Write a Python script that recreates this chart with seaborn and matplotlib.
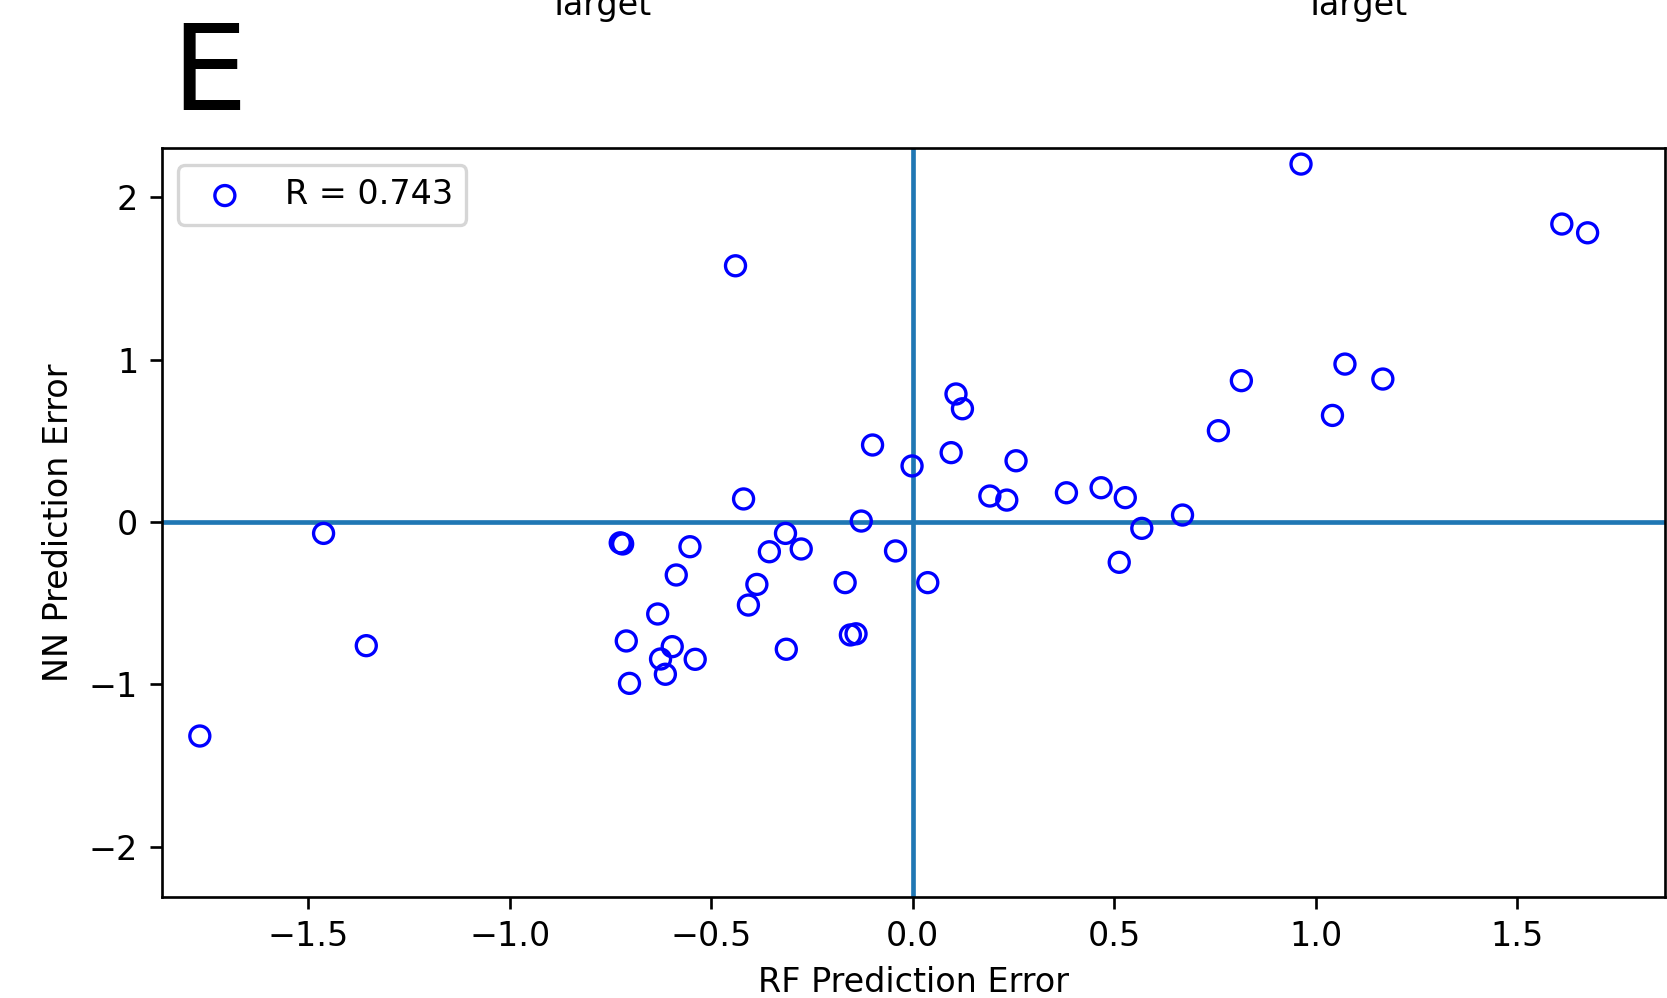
import matplotlib
matplotlib.use("Agg")
import matplotlib.pyplot as plt
import seaborn as sns
import pandas as pd

# Data
rf_error = [
    -0.100, -0.002, 0.095, 0.256, 0.191, 0.233, 0.381, -0.420, -0.128, -0.316,
    -0.356, -0.277, -0.043, -0.720, -0.726, -0.553, -0.587, -0.387, -0.168, 0.037,
    -0.408, -0.633, -0.711, -0.597, -0.626, -0.540, -0.614, -0.703, -0.314, -0.155,
    -0.141, 0.963, 0.107, 0.123, 0.815, 1.072, 1.041, 0.758, 1.610, 1.674,
    1.166, 0.467, 0.527, 0.669, 0.568, 0.512, -1.462, -1.356, -1.769, -0.440,
]
nn_error = [
    0.474, 0.345, 0.427, 0.377, 0.160, 0.135, 0.180, 0.142, 0.006, -0.070,
    -0.183, -0.166, -0.178, -0.135, -0.128, -0.152, -0.326, -0.384, -0.373, -0.373,
    -0.511, -0.566, -0.732, -0.767, -0.843, -0.845, -0.937, -0.993, -0.783, -0.695,
    -0.688, 2.203, 0.788, 0.697, 0.870, 0.972, 0.656, 0.562, 1.834, 1.780,
    0.880, 0.211, 0.150, 0.043, -0.039, -0.248, -0.070, -0.761, -1.317, 1.577,
]
legend_label = "R = 0.743"
x_ticks = [-1.5, -1.0, -0.5, 0.0, 0.5, 1.0, 1.5]
y_ticks = [-2, -1, 0, 1, 2]

df = pd.DataFrame({"RF Prediction Error": rf_error, "NN Prediction Error": nn_error})

DPI = 240
fig = plt.figure(figsize=(1667 / DPI, 998 / DPI), dpi=DPI)
ax = fig.add_axes([0.0969, 0.1015, 0.9988 - 0.0969, 0.8514 - 0.1015])

sns.scatterplot(data=df, x="RF Prediction Error", y="NN Prediction Error", ax=ax,
                marker="o", s=36, color="#0000ff", edgecolor="#0000ff",
                facecolors="none", linewidth=1.0, label=legend_label, zorder=3)
ax.collections[0].set_facecolor("none")
ax.collections[0].set_edgecolor("#0000ff")

ax.axhline(0, color="#1f77b4", lw=1.4, zorder=2)
ax.axvline(0, color="#1f77b4", lw=1.4, zorder=2)

ax.set_xlim(-1.864, 1.866)
ax.set_ylim(-2.306, 2.300)
ax.set_xticks(x_ticks)
ax.set_yticks(y_ticks)
ax.set_xlabel("RF Prediction Error")
ax.set_ylabel("NN Prediction Error")

leg = ax.legend(loc="upper left")

# Panel letter and cut-off labels from panels above
fig.text(0.103, 0.8898, "E", fontsize=36, ha="left", va="baseline")
fig.text(0.3595, 0.985, "Target", fontsize=10, ha="center", va="baseline")
fig.text(0.8131, 0.985, "Target", fontsize=10, ha="center", va="baseline")

fig.savefig("out.png", dpi=DPI)
